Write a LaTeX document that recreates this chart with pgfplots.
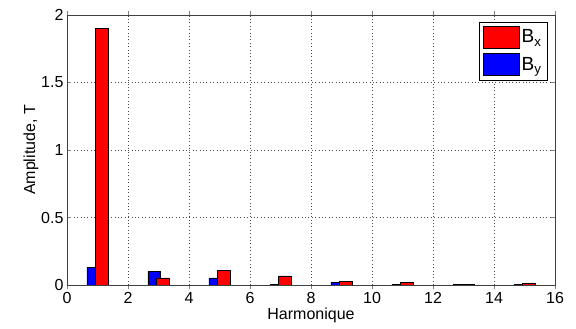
\documentclass[border=0pt]{standalone}
\usepackage{pgfplots}
\pgfplotsset{compat=1.18}
\usepackage{fontspec}
\setmainfont{Liberation Sans}

\begin{document}
\begin{tikzpicture}
\begin{axis}[
  scale only axis, width=488bp, height=270bp,
  xmin=0, xmax=16, ymin=0, ymax=2,
  xtick={0,2,...,16}, ytick={0,0.5,1,1.5,2},
  tick align=inside, tick pos=both,
  axis line style={black!75},
  grid=major, major grid style={black!70, dash pattern=on 0.8bp off 2.6bp, line width=0.5pt},
  font=\fontsize{16bp}{18bp}\selectfont,
  tick label style={font=\fontsize{16bp}{18bp}\selectfont},
  /pgf/number format/assume math mode=true,
  yticklabel style={/pgf/number format/fixed},
  xlabel={Harmonique}, ylabel={Amplitude, T},
  xlabel style={yshift=3bp}, ylabel style={yshift=-4bp},
  ybar, bar width=0.42,
  legend style={at={(0.985,0.975)}, anchor=north east, draw=black, fill=white,
    row sep=5bp, inner sep=4bp, font=\fontsize{19bp}{21bp}\selectfont},
  legend image code/.code={\draw[#1] (0bp,-11bp) rectangle (36bp,11bp);},
  reverse legend,
]
\addplot[fill=blue, draw=black, bar shift=-0.14] coordinates {
  (1,0.131) (3,0.099) (5,0.052) (7,0.005) (9,0.020) (11,0.004) (13,0.003) (15,0.004)};
\addplot[fill=red, draw=black, bar shift=0.14] coordinates {
  (1,1.90) (3,0.052) (5,0.106) (7,0.067) (9,0.027) (11,0.020) (13,0.004) (15,0.012)};
\legend{B\textsubscript{y}, B\textsubscript{x}}
\end{axis}
\pgfresetboundingbox
\path[use as bounding box] ([xshift=-67bp,yshift=-44bp]current axis.south west)
  rectangle ([xshift=21bp,yshift=15bp]current axis.north east);
\end{tikzpicture}
\end{document}
